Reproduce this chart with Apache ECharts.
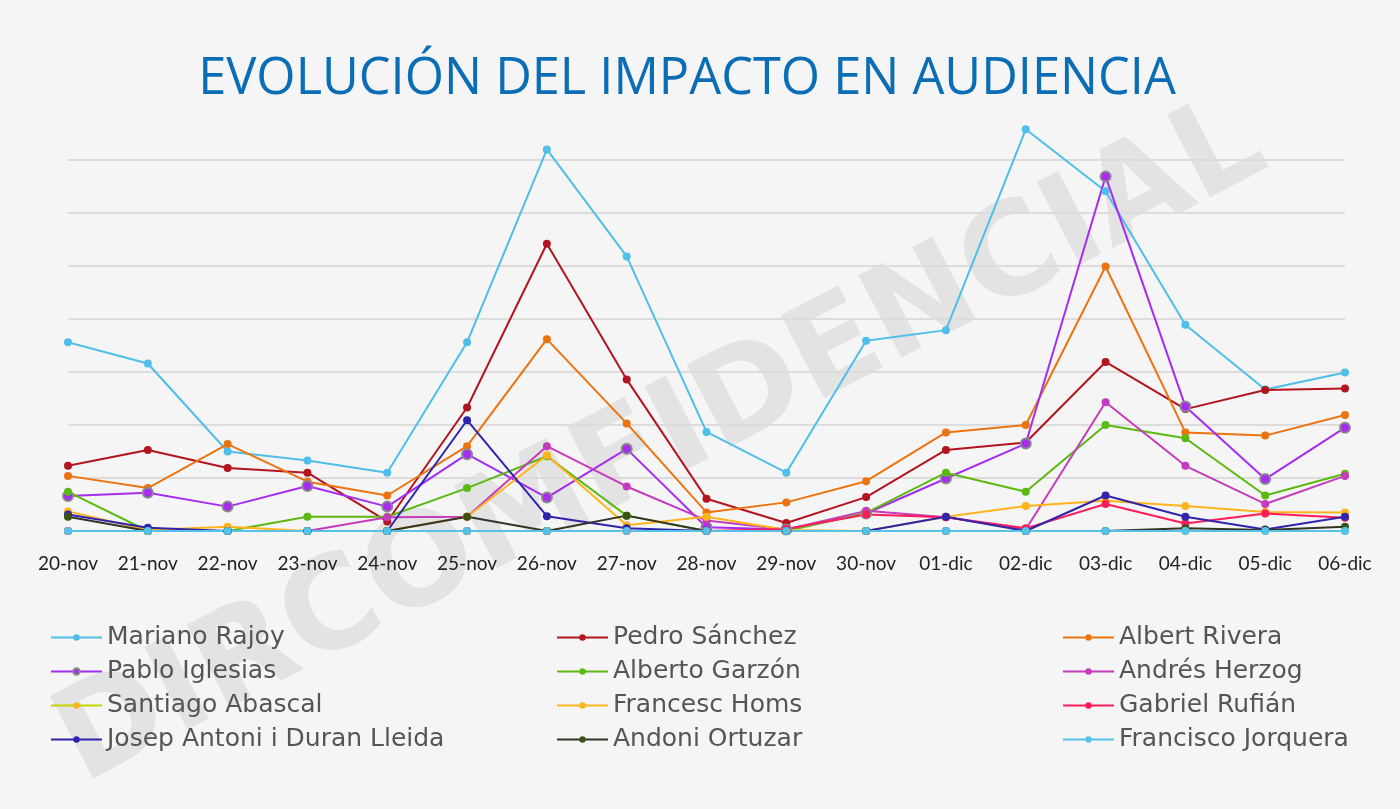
<!DOCTYPE html>
<html>
<head>
<meta charset="utf-8">
<script src="https://cdn.jsdelivr.net/npm/echarts@6/dist/echarts.min.js"></script>
<style>
html,body{margin:0;padding:0;background:#f5f5f5;}
#chart{width:1400px;height:809px;}
</style>
</head>
<body>
<div id="chart"></div>
<script>
const categories = ['20-nov','21-nov','22-nov','23-nov','24-nov','25-nov','26-nov','27-nov','28-nov','29-nov','30-nov','01-dic','02-dic','03-dic','04-dic','05-dic','06-dic'];

const marianoRajoy     = [3.56, 3.16, 1.50, 1.33, 1.10, 3.56, 7.20, 5.18, 1.87, 1.10, 3.59, 3.79, 7.58, 6.41, 3.89, 2.67, 2.99];
const pedroSanchez     = [1.23, 1.53, 1.19, 1.10, 0.18, 2.33, 5.42, 2.86, 0.61, 0.15, 0.64, 1.53, 1.67, 3.19, 2.30, 2.66, 2.69];
const albertRivera     = [1.04, 0.81, 1.64, 0.93, 0.67, 1.60, 3.62, 2.03, 0.35, 0.54, 0.94, 1.86, 2.00, 4.99, 1.86, 1.80, 2.19];
const pabloIglesias    = [0.66, 0.72, 0.46, 0.85, 0.46, 1.45, 0.63, 1.55, 0.07, 0.03, 0.33, 0.99, 1.65, 6.69, 2.35, 0.98, 1.95];
const albertoGarzon    = [0.74, 0.00, 0.00, 0.27, 0.27, 0.81, 1.41, 0.29, 0.00, 0.00, 0.34, 1.10, 0.74, 2.00, 1.75, 0.67, 1.08];
const andresHerzog     = [0.00, 0.00, 0.00, 0.00, 0.26, 0.27, 1.60, 0.84, 0.20, 0.03, 0.38, 0.26, 0.03, 2.43, 1.23, 0.51, 1.04];
const santiagoAbascal  = [0, 0, 0, 0, 0, 0, 0, 0, 0, 0, 0, 0, 0, 0, 0, 0, 0];
const francescHoms     = [0.37, 0.02, 0.08, 0.00, 0.00, 0.27, 1.43, 0.11, 0.27, 0.02, 0.00, 0.27, 0.47, 0.57, 0.47, 0.36, 0.35];
const gabrielRufian    = [0, 0, 0, 0, 0, 0, 0, 0, 0, 0.04, 0.31, 0.26, 0.05, 0.51, 0.14, 0.33, 0.25];
const duranLleida      = [0.31, 0.06, 0, 0, 0, 2.09, 0.28, 0.05, 0, 0, 0, 0.27, 0, 0.67, 0.27, 0.03, 0.27];
const andoniOrtuzar    = [0.27, 0, 0, 0, 0, 0.27, 0, 0.29, 0, 0, 0, 0, 0, 0, 0.05, 0.02, 0.08];
const franciscoJorquera= [0, 0, 0, 0, 0, 0, 0, 0, 0, 0, 0, 0, 0, 0, 0, 0, 0];

const seriesDefs = [
  {name:'Mariano Rajoy', data:marianoRajoy, line:'#4fbee9', dot:'#4fbee9'},
  {name:'Pedro Sánchez', data:pedroSanchez, line:'#b3141f', dot:'#b3141f'},
  {name:'Albert Rivera', data:albertRivera, line:'#ec7410', dot:'#ec7410'},
  {name:'Pablo Iglesias', data:pabloIglesias, line:'#a52cf0', dot:'#a52cf0', border:'#8a8a8a'},
  {name:'Alberto Garzón', data:albertoGarzon, line:'#5cb912', dot:'#5cb912'},
  {name:'Andrés Herzog', data:andresHerzog, line:'#c43bbd', dot:'#c43bbd'},
  {name:'Santiago Abascal', data:santiagoAbascal, line:'#c4d600', dot:'#ffb31c'},
  {name:'Francesc Homs', data:francescHoms, line:'#ffb31c', dot:'#ffb31c'},
  {name:'Gabriel Rufián', data:gabrielRufian, line:'#ff1c58', dot:'#ff1c58'},
  {name:'Josep Antoni i Duran Lleida', data:duranLleida, line:'#2f25ad', dot:'#2f25ad'},
  {name:'Andoni Ortuzar', data:andoniOrtuzar, line:'#333326', dot:'#3b5214'},
  {name:'Francisco Jorquera', data:franciscoJorquera, line:'#55c3e8', dot:'#55c3e8'}
];

const legendCols = [
  ['Mariano Rajoy','Pablo Iglesias','Santiago Abascal','Josep Antoni i Duran Lleida'],
  ['Pedro Sánchez','Alberto Garzón','Francesc Homs','Andoni Ortuzar'],
  ['Albert Rivera','Andrés Herzog','Gabriel Rufián','Francisco Jorquera']
];
const legendLeft = [45, 551, 1057];

const chart = echarts.init(document.getElementById('chart'), null, {renderer:'canvas'});

const option = {
  backgroundColor: '#f5f5f5',
  animation: false,
  graphic: [
    {
      type: 'text',
      z: 0,
      x: 662, y: 445,
      rotation: 27.5 * Math.PI / 180,
      style: {
        text: 'DIRCOMFIDENCIAL',
        font: 'bold 128px "DejaVu Sans"',
        fill: 'rgba(0,0,0,0.07)',
        align: 'center',
        verticalAlign: 'middle'
      }
    },
    {
      type: 'text',
      z: 10,
      x: 687, y: 80,
      style: {
        text: 'EVOLUCIÓN DEL IMPACTO EN AUDIENCIA',
        font: '50.5px "Open Sans"',
        fill: '#0b6db6',
        align: 'center',
        verticalAlign: 'middle'
      }
    }
  ],
  grid: {left: 68, right: 55, top: 160, bottom: 278},
  xAxis: {
    type: 'category',
    data: categories,
    boundaryGap: false,
    axisLine: {show: false},
    axisTick: {show: false},
    axisLabel: {fontSize: 19, color: '#222', margin: 23, fontFamily: 'Lato'},
    splitLine: {show: false}
  },
  yAxis: {
    type: 'value',
    min: 0, max: 7, interval: 1,
    axisLine: {show: false},
    axisTick: {show: false},
    axisLabel: {show: false},
    splitLine: {lineStyle: {color: '#dcdcdc', width: 2}}
  },
  legend: legendCols.map((names, i) => ({
    orient: 'vertical',
    left: legendLeft[i],
    top: 620,
    data: names,
    itemWidth: 51,
    itemHeight: 8,
    itemGap: 9,
    textStyle: {fontSize: 25, lineHeight: 24, color: '#555555', fontFamily: 'DejaVu Sans'}
  })),
  series: seriesDefs.map(d => ({
    name: d.name,
    type: 'line',
    data: d.data,
    clip: false,
    symbol: 'circle',
    symbolSize: d.border ? 10 : 8,
    lineStyle: {color: d.line, width: 2},
    itemStyle: d.border ? {color: d.dot, borderColor: d.border, borderWidth: 2} : {color: d.dot}
  }))
};

chart.setOption(option);
</script>
</body>
</html>
